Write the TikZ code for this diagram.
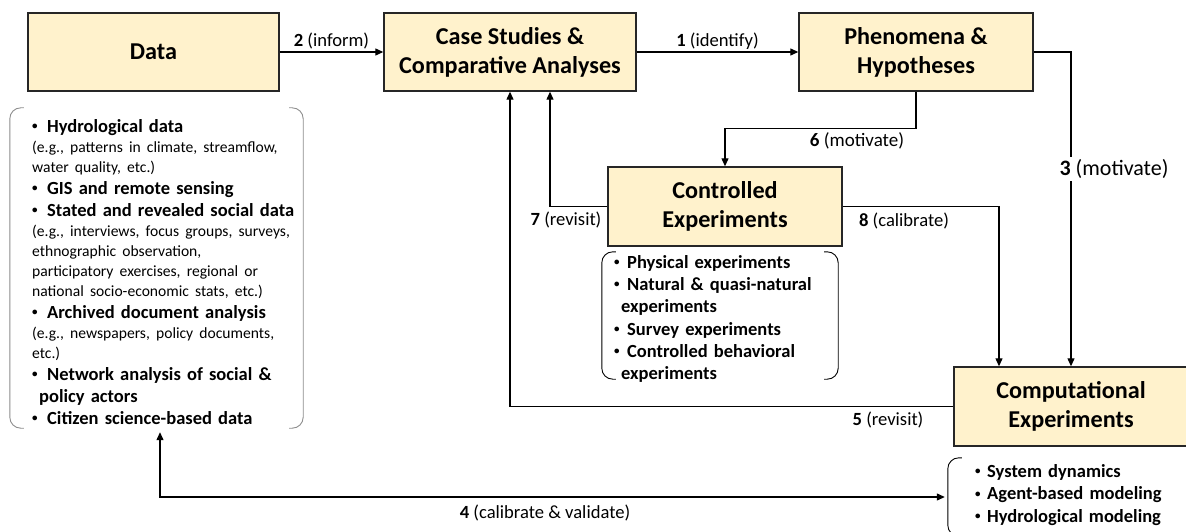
\documentclass[tikz,border=0pt]{standalone}
\usepackage{fontspec}
\setmainfont{Carlito}
\usetikzlibrary{arrows.meta}
\setlength{\parindent}{0pt}
\definecolor{boxfill}{HTML}{FFF2CC}
\definecolor{boxline}{HTML}{262626}
\newcommand{\dotmark}{\raisebox{2.5pt}{\fontsize{11}{11}\selectfont\textbullet}}
\newcommand{\itm}[2][15pt]{\makebox[#1][l]{\dotmark}#2\par}
\newcommand{\eg}[1]{{\mdseries\fontsize{15.6}{20}\selectfont #1\par}}
\newcommand{\cont}[1]{\hspace*{7pt}#1\par}
\newcommand{\drawframe}[2][black]{%
	\draw[frameline,#1] ([xshift=14]#2.north west) -- (#2.north west) -- (#2.south west) -- ([xshift=14]#2.south west);
	\draw[frameline,#1] ([xshift=-14]#2.north east) -- (#2.north east) -- (#2.south east) -- ([xshift=-14]#2.south east);}

\begin{document}
\begin{tikzpicture}[x=1pt,y=-1pt,
	stage/.style={draw=boxline, line width=1.4pt, fill=boxfill, align=center, minimum height=78,
		font=\fontsize{24.2}{29}\selectfont\bfseries},
	frame/.style={inner sep=0pt},
	frameline/.style={line width=0.9pt, rounded corners=11pt},
	listtxt/.style={inner sep=0pt, align=left, anchor=north west, font=\fontsize{18.5}{22}\selectfont\bfseries},
	lbl/.style={font=\fontsize{18.6}{21}\selectfont, inner sep=2pt},
	flow/.style={line width=1.2pt, -{Triangle[length=8pt,width=7pt]}},
	flow2/.style={line width=1.2pt, {Triangle[length=8pt,width=7pt]}-{Triangle[length=8pt,width=7pt]}}]
	\useasboundingbox (0,0) rectangle (1186,532);

	% stages
	\node[stage, minimum width=251] (data) at (153.5,52) {Data};
	\node[stage, minimum width=252] (case) at (510,52) {Case Studies \&\\Comparative Analyses};
	\node[stage, minimum width=234] (phen) at (916,52) {Phenomena \&\\Hypotheses};
	\node[stage, minimum width=234, minimum height=79] (ctrl) at (725,206.5) {Controlled\\Experiments};
	\node[stage, minimum width=234, minimum height=79] (comp) at (1071,406.5) {Computational\\Experiments};

	% frames round the lists
	\node[frame, minimum width=293, minimum height=320] (datafrm) at (156.5,268) {};
	\node[frame, minimum width=236, minimum height=127] (ctrlfrm) at (720,315.5) {};
	\node[frame, minimum width=260, minimum height=78] (compfrm) at (1078,497) {};
	\drawframe[black!45]{datafrm}
	\drawframe{ctrlfrm}
	\drawframe{compfrm}

	\node[listtxt, text width=275] (datalist) at (32,119) {%
		\itm{Hydrological data}
		\eg{(e.g., patterns in climate, streamflow,}
		\eg{water quality, etc.)}
		\itm{GIS and remote sensing}
		\itm{Stated and revealed social data}
		\eg{(e.g., interviews, focus groups, surveys,}
		\eg{ethnographic observation,}
		\eg{participatory exercises, regional or}
		\eg{national socio-economic stats, etc.)}
		\itm{Archived document analysis}
		\eg{(e.g., newspapers, policy documents,}
		\eg{etc.)}
		\itm{Network analysis of social \&}
		\cont{policy actors}
		\itm{Citizen science-based data}};
	\node[listtxt, text width=230, font=\fontsize{18.5}{22.3}\selectfont\bfseries] (ctrllist) at (614,255) {%
		\itm[13pt]{Physical experiments}
		\itm[13pt]{Natural \& quasi-natural}
		\cont{experiments}
		\itm[13pt]{Survey experiments}
		\itm[13pt]{Controlled behavioral}
		\cont{experiments}};
	\node[listtxt, text width=210, font=\fontsize{18.5}{22.5}\selectfont\bfseries] (complist) at (975,464) {%
		\itm[12pt]{System dynamics}
		\itm[12pt]{Agent-based modeling}
		\itm[12pt]{Hydrological modeling}};

	% connectors
	\draw[flow] (data) -- (case) node[lbl, midway, above] (lab2) {\textbf{2} (inform)};
	\draw[flow] (case) -- (phen) node[lbl, midway, above] (lab1) {\textbf{1} (identify)};
	\draw[flow] (phen.east) -| (comp.north);
	\draw[flow] (phen.south) -- ++(0,37) -| (ctrl.north);
	\draw[flow] (ctrl.west) -| ([xshift=40]case.south);
	\draw[flow] (comp.west) -| (case.south);
	\draw[flow] (ctrl.east) -| ([xshift=-72]comp.north);
	\draw[flow2] ([xshift=3.5,yshift=-4]datafrm.south) |- ([xshift=-3]compfrm.west);

	\node[lbl, fill=white, font=\fontsize{22}{24}\selectfont] (lab3) at (1114,169) {\textbf{3} (motivate)};
	\node[lbl, font=\fontsize{19}{21}\selectfont] (lab6) at (857,141) {\textbf{6} (motivate)};
	\node[lbl] (lab7) at (566,220) {\textbf{7} (revisit)};
	\node[lbl] (lab8) at (904,221) {\textbf{8} (calibrate)};
	\node[lbl] (lab5) at (888,420) {\textbf{5} (revisit)};
	\node[lbl] (lab4) at (545,513) {\textbf{4} (calibrate \& validate)};
\end{tikzpicture}
\end{document}
